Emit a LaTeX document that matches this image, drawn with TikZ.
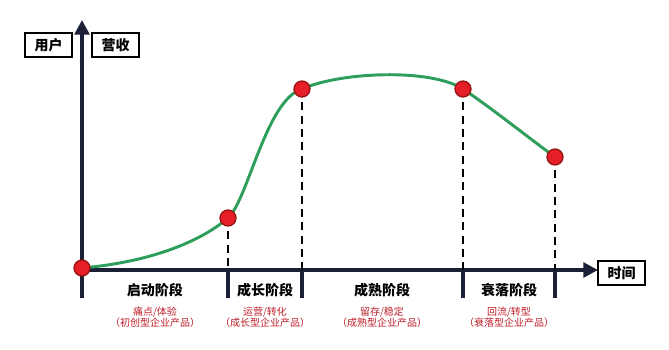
\documentclass[tikz,border=0pt]{standalone}
\usepackage{fontspec}
\setmainfont{Noto Sans CJK SC}
\usepackage{tikz}
\usetikzlibrary{arrows.meta}
\definecolor{axisnavy}{RGB}{28,32,54}
\definecolor{curvegreen}{RGB}{46,158,92}
\definecolor{ptred}{RGB}{230,30,40}
\definecolor{ptdark}{RGB}{150,20,20}
\definecolor{subred}{RGB}{190,30,40}
\tikzset{
  axis/.style={line width=3.5pt,draw=axisnavy},
  tick/.style={line width=3.5pt,draw=axisnavy},
  labelbox/.style={draw=black,line width=1.2pt,minimum width=35pt,minimum height=18pt,inner sep=0pt,font=\bfseries\fontsize{10.5}{12}\selectfont},
  pt/.style={circle,fill=ptred,draw=ptdark,line width=1pt,minimum size=12pt,inner sep=0pt},
  stagetitle/.style={font=\bfseries\fontsize{10.5}{12}\selectfont},
  stagesub/.style={font=\fontsize{7.5}{8.5}\selectfont,text=subred,align=center}
}

\begin{document}
\begin{tikzpicture}[x=0.75pt,y=0.75pt]
\useasboundingbox (0,0) rectangle (669,350);
% axes
\coordinate (o) at (82,80);
\coordinate (ytip) at (82,330);
\coordinate (xtip) at (598,80);
\draw[axis,-{Triangle[width=11pt,length=11pt]}] (o) -- (ytip);
\draw[axis,-{Triangle[width=11pt,length=11pt]}] (o) -- (xtip);
\node[labelbox] (user) at (48.5,305) {用户};
\node[labelbox] (rev) at (115.5,305) {营收};
\node[labelbox] (time) at (621.5,77) {时间};
% ticks under the axis
\foreach \x/\n in {82/0,228/1,302/2,463/3,555/4} {
  \coordinate (t\n) at (\x,80);
  \draw[tick] (\x,82) -- (\x,52);
}
% points of the curve
\coordinate (c0) at (82,82);
\coordinate (c1) at (228,132);
\coordinate (c2) at (302,261);
\coordinate (c3) at (463,261);
\coordinate (c4) at (555,193);
\draw[curvegreen,line width=2.2pt,line cap=round]
  (c0) .. controls (150,88) and (200,108) .. (c1)
       .. controls (248,150) and (266,250) .. (c2)
       .. controls (340,278) and (430,282) .. (c3)
       .. controls (490,243) and (525,215) .. (c4);
\foreach \n in {1,2,3,4} {
  \draw[black,line width=1.5pt,dash pattern=on 6pt off 4pt] (c\n) -- (t\n);
}
\foreach \n in {0,1,2,3,4} {
  \node[pt] (p\n) at (c\n) {};
}
% stages
\node[stagetitle] (s1) at (155,60) {启动阶段};
\node[stagetitle] (s2) at (265,60) {成长阶段};
\node[stagetitle] (s3) at (382,60) {成熟阶段};
\node[stagetitle] (s4) at (509,60) {衰落阶段};
\node[stagesub] (d1) at (155,32.5) {痛点/体验\\（初创型企业产品）};
\node[stagesub] (d2) at (265,32.5) {运营/转化\\（成长型企业产品）};
\node[stagesub] (d3) at (382,32.5) {留存/稳定\\（成熟型企业产品）};
\node[stagesub] (d4) at (509,32.5) {回流/转型\\（衰落型企业产品）};
\end{tikzpicture}
\end{document}
